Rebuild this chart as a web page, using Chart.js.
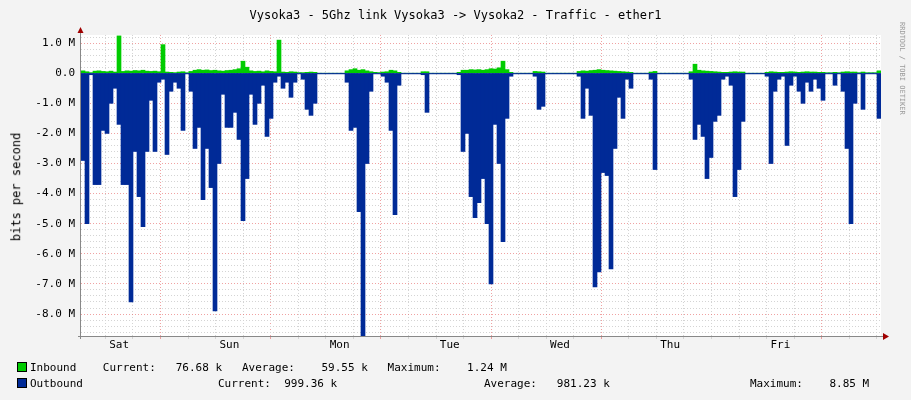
<!DOCTYPE html>
<html>
<head>
<meta charset="utf-8">
<script src="https://cdn.jsdelivr.net/npm/chart.js@4"></script>
<style>
  body { margin: 0; background: #f3f3f3; font-family: "DejaVu Sans Mono", monospace; }
  #wrap { position: relative; width: 911px; height: 400px; }
  #c { position: absolute; left: 0; top: 0; }
  .t { position: absolute; font-size: 11px; color: #000; white-space: pre; }
  .sq { display: inline-block; width: 8px; height: 8px; border: 1px solid #000; margin-right: 3px; vertical-align: -1px; }
</style>
</head>
<body>
<div id="wrap">
  <canvas id="c" width="911" height="400"></canvas>
  <div class="t" style="left:0;width:911px;text-align:center;top:8px;font-size:12px">Vysoka3 - 5Ghz link Vysoka3 -&gt; Vysoka2 - Traffic - ether1</div>
  <div class="t" style="left:-38px;top:180px;transform:rotate(-90deg);font-size:12px">bits per second</div>
  <div class="t" style="left:898px;top:22px;writing-mode:vertical-rl;font-size:7px;color:#999">RRDTOOL / TOBI OETIKER</div>
  <div class="t" style="left:17px;top:361px"><span class="sq" style="background:#00cc00"></span>Inbound    Current:   76.68 k   Average:    59.55 k   Maximum:    1.24 M</div>
  <div class="t" style="left:17px;top:377px"><span class="sq" style="background:#002a97"></span>Outbound</div>
  <div class="t" style="left:218px;top:377px">Current:  999.36 k</div>
  <div class="t" style="left:484px;top:377px">Average:   981.23 k</div>
  <div class="t" style="left:750px;top:377px">Maximum:    8.85 M</div>
</div>
<script>
// values in M bits/s, one sample per ~40 minutes starting Sat ~06:50
const outbound = [
  -2.9, -5.0, -0.05, -3.7, -3.7, -1.9, -2.0, -1.0, -0.5, -1.7,
  -3.7, -3.7, -7.6, -2.6, -4.1, -5.1, -2.6, -0.9, -2.6, -0.3,
  -0.2, -2.7, -0.6, -0.3, -0.5, -1.9, 0, -0.6, -2.5, -1.8,
  -4.2, -2.5, -3.8, -7.9, -3.0, -0.7, -1.8, -1.8, -1.3, -2.2,
  -4.9, -3.5, -0.7, -1.7, -1.0, -0.4, -2.1, -1.5, -0.3, -0.1,
  -0.5, -0.3, -0.8, -0.3, 0, -0.2, -1.2, -1.4, -1.0, 0,
  0, 0, 0, 0, 0, 0, -0.3, -1.9, -1.8, -4.6,
  -8.8, -3.0, -0.6, 0, 0, -0.1, -0.3, -1.9, -4.7, -0.4,
  0, 0, 0, 0, 0, -0.05, -1.3, 0, 0, 0,
  0, 0, 0, 0, -0.05, -2.6, -2.0, -4.1, -4.8, -4.3,
  -3.5, -5.0, -7.0, -1.7, -3.0, -5.6, -1.5, -0.1, 0, 0,
  0, 0, 0, -0.1, -1.2, -1.1, 0, 0, 0, 0,
  0, 0, 0, 0, -0.1, -1.5, -0.5, -1.4, -7.1, -6.6,
  -3.3, -3.4, -6.5, -2.5, -0.8, -1.5, -0.2, -0.5, 0, 0,
  0, 0, -0.2, -3.2, 0, 0, 0, 0, 0, 0,
  0, 0, -0.2, -2.2, -1.7, -2.1, -3.5, -2.8, -1.6, -1.4,
  -0.2, -0.1, -0.4, -4.1, -3.2, -1.6, 0, 0, 0, 0,
  0, -0.1, -3.0, -0.6, -0.2, -0.1, -2.4, -0.4, -0.1, -0.6,
  -1.0, -0.3, -0.6, -0.2, -0.5, -0.9, 0, 0, -0.4, 0,
  -0.6, -2.5, -5.0, -1.0, 0, -1.2, 0, 0, 0, -1.5
];
const inbound = [
  0.08, 0.05, 0.02, 0.07, 0.08, 0.06, 0.05, 0.07, 0.04, 1.24,
  0.06, 0.08, 0.07, 0.09, 0.08, 0.10, 0.07, 0.06, 0.07, 0.05,
  0.95, 0.04, 0.03, 0.02, 0.04, 0.05, 0.01, 0.06, 0.10, 0.12,
  0.10, 0.11, 0.09, 0.10, 0.08, 0.07, 0.09, 0.10, 0.12, 0.15,
  0.40, 0.20, 0.08, 0.06, 0.07, 0.05, 0.08, 0.06, 0.05, 1.10,
  0.04, 0.03, 0.05, 0.04, 0.02, 0.02, 0.03, 0.04, 0.03, 0,
  0, 0, 0, 0, 0, 0, 0.08, 0.12, 0.15, 0.10,
  0.12, 0.08, 0.05, 0.03, 0.02, 0.04, 0.05, 0.10, 0.08, 0.03,
  0, 0, 0, 0, 0, 0.05, 0.05, 0, 0, 0,
  0, 0, 0, 0, 0.03, 0.10, 0.10, 0.12, 0.11, 0.12,
  0.10, 0.12, 0.15, 0.14, 0.18, 0.40, 0.12, 0.03, 0, 0,
  0, 0, 0, 0.06, 0.05, 0.04, 0, 0, 0, 0,
  0, 0, 0, 0, 0.06, 0.08, 0.07, 0.09, 0.10, 0.12,
  0.10, 0.09, 0.08, 0.07, 0.06, 0.05, 0.04, 0.03, 0, 0,
  0, 0, 0.04, 0.06, 0, 0, 0, 0, 0, 0,
  0, 0, 0.05, 0.30, 0.10, 0.08, 0.07, 0.06, 0.05, 0.04,
  0.03, 0.03, 0.04, 0.05, 0.04, 0.04, 0, 0, 0, 0,
  0, 0.03, 0.05, 0.04, 0.03, 0.03, 0.04, 0.05, 0.04, 0.03,
  0.04, 0.05, 0.04, 0.04, 0.03, 0.03, 0.01, 0.01, 0.03, 0.01,
  0.04, 0.05, 0.04, 0.04, 0.01, 0.04, 0.01, 0.01, 0.01, 0.08
];
const dayLabels = ["Sat", "Sun", "Mon", "Tue", "Wed", "Thu", "Fri"];
const firstMidnight = 17.2; // hours from graph start to first midnight

const labels = outbound.map((v, i) => i);
const M = 1e6;

const bgPlugin = {
  id: "bg",
  beforeDraw(chart) {
    const a = chart.chartArea, c = chart.ctx;
    c.save();
    c.fillStyle = "#ffffff";
    c.fillRect(a.left, a.top, a.right - a.left, a.bottom - a.top);
    c.restore();
  },
  afterDatasetsDraw(chart) {
    const a = chart.chartArea, c = chart.ctx;
    const y0 = chart.scales.y.getPixelForValue(0);
    c.save();
    c.strokeStyle = "#002a97";
    c.beginPath(); c.moveTo(a.left, y0 + 0.5); c.lineTo(a.right, y0 + 0.5); c.stroke();
    c.strokeStyle = "#888";
    c.beginPath(); c.moveTo(a.left - 0.5, a.top - 6); c.lineTo(a.left - 0.5, a.bottom + 3); c.stroke();
    c.beginPath(); c.moveTo(a.left - 3, a.bottom + 0.5); c.lineTo(a.right + 3, a.bottom + 0.5); c.stroke();
    c.fillStyle = "#a00000";
    c.beginPath(); c.moveTo(a.left - 3.5, a.top - 2); c.lineTo(a.left + 2.5, a.top - 2); c.lineTo(a.left - 0.5, a.top - 8); c.fill();
    c.beginPath(); c.moveTo(a.right + 2, a.bottom - 3); c.lineTo(a.right + 2, a.bottom + 4); c.lineTo(a.right + 8, a.bottom + 0.5); c.fill();
    c.restore();
  }
};

new Chart(document.getElementById("c"), {
  type: "bar",
  data: {
    labels: labels,
    datasets: [
      { label: "Outbound", data: outbound.map(v => v * M), backgroundColor: "#002a97", barPercentage: 1, categoryPercentage: 1, borderWidth: 0 },
      { label: "Inbound", data: inbound.map(v => v * M), backgroundColor: "#00cc00", barPercentage: 1, categoryPercentage: 1, borderWidth: 0 }
    ]
  },
  options: {
    responsive: false,
    animation: false,
    layout: { padding: { top: 35, right: 30, left: 0, bottom: 0 } },
    plugins: { legend: { display: false }, tooltip: { enabled: false } },
    scales: {
      x: { stacked: true, display: false },
      x2: {
        type: "linear", position: "bottom", min: 0, max: 168,
        afterFit(s) { s.height = 64; s.paddingLeft = 0; s.paddingRight = 0; },
        afterBuildTicks(s) {
          const t = [];
          for (let h = firstMidnight - 12; h <= 168; h += 6) if (h >= 0) t.push({ value: h });
          s.ticks = t;
        },
        grid: {
          color(ctx) {
            const h = ctx.tick ? ctx.tick.value : 0;
            return Math.abs(((h - firstMidnight) % 24 + 24) % 24) < 0.01 ? "rgba(230,100,100,0.6)" : "#d4d4d4";
          },
          tickLength: 3
        },
        border: { dash: [1, 2], display: false },
        ticks: {
          autoSkip: false, maxRotation: 0, padding: 0,
          color: "#000", font: { family: "DejaVu Sans Mono", size: 11 },
          callback(v) {
            const d = (v - firstMidnight + 12) / 24;
            const k = Math.round(d);
            if (Math.abs(d - k) < 0.01 && ((v - firstMidnight) % 24 + 24) % 24 > 1) return dayLabels[k];
            return "";
          }
        }
      },
      y: {
        min: -8.73 * M, max: 1.27 * M,
        afterFit(s) { s.width = 81; },
        afterBuildTicks(s) {
          const t = [];
          for (let v = -43; v <= 6; v++) t.push({ value: v * 0.2 * M });
          s.ticks = t;
        },
        grid: {
          color(ctx) {
            const v = ctx.tick ? ctx.tick.value / M : 0;
            return Math.abs(v - Math.round(v)) < 0.01 ? "rgba(230,100,100,0.6)" : "#d4d4d4";
          },
          drawTicks: false
        },
        border: { dash: [1, 2], display: false },
        ticks: {
          autoSkip: false, padding: 6, color: "#000",
          font: { family: "DejaVu Sans Mono", size: 11 },
          callback(v) {
            const m = v / M;
            if (Math.abs(m - Math.round(m)) > 0.01) return "";
            const r = Math.round(m);
            return r === 0 ? "0.0" : r.toFixed(1) + " M";
          }
        }
      }
    }
  },
  plugins: [bgPlugin]
});
</script>
</body>
</html>
